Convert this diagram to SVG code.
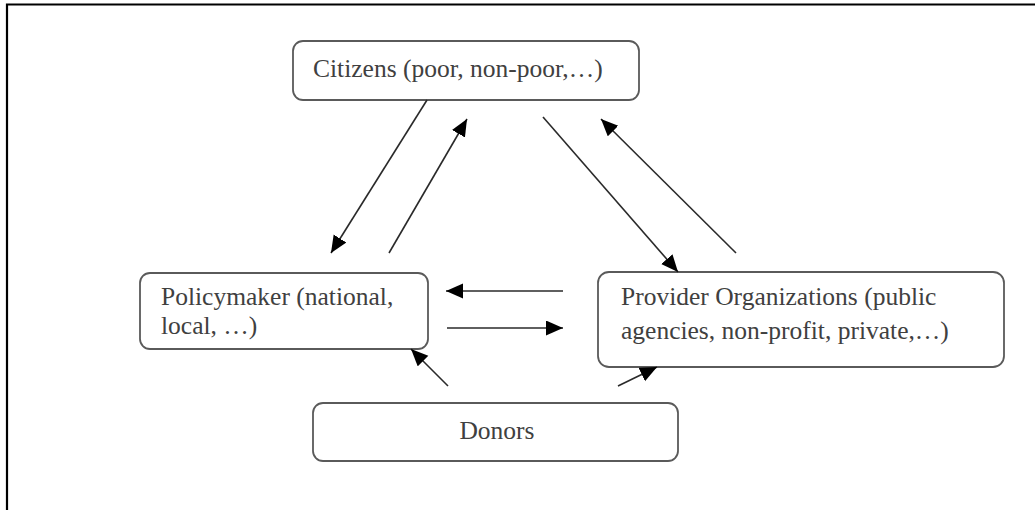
<svg xmlns="http://www.w3.org/2000/svg" width="1035" height="510" viewBox="0 0 1035 510">
  <style>
    .box { fill: #ffffff; stroke: #5a5a5a; stroke-width: 1.8; }
    .lbl { font-family: "Liberation Serif", "Times New Roman", serif; font-size: 25.5px; fill: #404040; }
    .conn { stroke: #2a2a2a; stroke-width: 1.6; fill: none; marker-end: url(#arrow); }
    .frame { stroke: #000000; stroke-width: 2.2; fill: none; }
  </style>
  <defs>
    <marker id="arrow" markerUnits="userSpaceOnUse" markerWidth="20" markerHeight="16" refX="17" refY="7.5" orient="auto">
      <path d="M0,0 L17,7.5 L0,15 Z" fill="#000000"/>
    </marker>
  </defs>
  <rect x="0" y="0" width="1035" height="510" fill="#ffffff"/>
  <polyline class="frame" points="7,510 7,4.5 1035,4.5"/>

  <g id="citizens">
    <rect class="box" x="293" y="41" width="346" height="59" rx="10" ry="10"/>
    <text class="lbl" x="313" y="77">Citizens (poor, non-poor,…)</text>
  </g>

  <g id="policymaker">
    <rect class="box" x="140" y="273" width="288" height="76" rx="10" ry="10"/>
    <text class="lbl" x="161" y="305">Policymaker (national,</text>
    <text class="lbl" x="161" y="334">local, …)</text>
  </g>

  <g id="provider">
    <rect class="box" x="598" y="272" width="406" height="95" rx="11" ry="11"/>
    <text class="lbl" x="621" y="305">Provider Organizations (public</text>
    <text class="lbl" x="621" y="339">agencies, non-profit, private,…)</text>
  </g>

  <g id="donors">
    <rect class="box" x="313" y="403" width="365" height="58" rx="10" ry="10"/>
    <text class="lbl" x="497" y="439" text-anchor="middle">Donors</text>
  </g>

  <g id="connectors">
    <line class="conn" x1="427" y1="100" x2="331" y2="253"/>
    <line class="conn" x1="389" y1="253" x2="467" y2="119"/>
    <line class="conn" x1="543" y1="117" x2="678" y2="272"/>
    <line class="conn" x1="736" y1="253" x2="601" y2="119"/>
    <line class="conn" x1="563" y1="291" x2="446" y2="291"/>
    <line class="conn" x1="447" y1="328" x2="563" y2="328"/>
    <line class="conn" x1="448" y1="386" x2="411" y2="349"/>
    <line class="conn" x1="618" y1="386" x2="657" y2="367"/>
  </g>
</svg>
